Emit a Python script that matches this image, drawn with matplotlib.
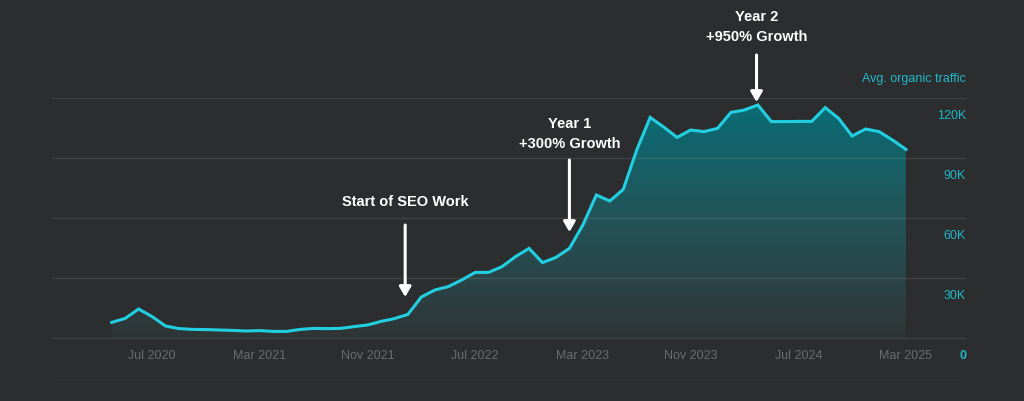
import matplotlib
matplotlib.use("Agg")
import matplotlib.pyplot as plt
import numpy as np
from matplotlib.colors import LinearSegmentedColormap
from matplotlib.patches import Polygon

# ---------------- data ----------------
start_month_label = "Apr 2020"
traffic_k = [7.8, 9.8, 14.5, 10.7, 6.0, 4.7, 4.3, 4.2, 4.0, 3.8,
             3.5, 3.7, 3.3, 3.3, 4.3, 4.8, 4.7, 4.8, 5.7, 6.5,
             8.3, 9.7, 11.8, 20.5, 24.0, 25.7, 29.0, 32.8, 32.8, 35.7,
             40.7, 44.8, 37.7, 40.3, 44.8, 56.5, 71.5, 68.5, 74.3, 94.0,
             110.3, 105.5, 100.3, 104.0, 103.2, 104.8, 112.8, 114.0, 116.5, 108.2,
             108.2, 108.3, 108.3, 115.2, 109.8, 101.0, 104.5, 103.2, 99.0, 94.3]
x_tick_idx = [3, 11, 19, 27, 35, 43, 51, 59]
x_tick_labels = ["Jul 2020", "Mar 2021", "Nov 2021", "Jul 2022",
                 "Mar 2023", "Nov 2023", "Jul 2024", "Mar 2025"]
y_ticks = [0, 30000, 60000, 90000, 120000]
y_tick_labels = ["0", "30K", "60K", "90K", "120K"]
series_label = "Avg. organic traffic"
ann_texts = ["Start of SEO Work", "Year 1\n+300% Growth", "Year 2\n+950% Growth"]
ann_x = [21.8, 34.0, 47.9]

values = np.array(traffic_k) * 1000
idx = np.arange(len(values))

BG = "#2c2d2f"
CYAN = "#22cfe0"
plt.rcParams['font.family'] = ['Liberation Sans', 'DejaVu Sans']

fig = plt.figure(figsize=(10.24, 4.01), dpi=100, facecolor=BG)
ax = fig.add_axes([52/1024, 1 - 380/401, (966-52)/1024, (380-98)/401])
ax.set_facecolor(BG)
ax.set_xlim(-4.435, 63.46)
ax.set_ylim(-21000, 120000)
ax.axis("off")

# gradient fill
cmap = LinearSegmentedColormap.from_list("g", [(0.0, "#303536"), (0.5, "#235459"), (1.0, "#086d76")])
grad = np.linspace(0, 1, 256).reshape(-1, 1)
im = ax.imshow(grad, cmap=cmap, origin="lower", aspect="auto",
               extent=[idx[0], idx[-1], 0, 120000], zorder=1)
poly_pts = np.vstack([np.column_stack([idx, values]),
                      [[idx[-1], 0], [idx[0], 0]]])
poly = Polygon(poly_pts, closed=True, transform=ax.transData, facecolor="none", edgecolor="none")
ax.add_patch(poly)
im.set_clip_path(poly)

# gridlines
for yv in y_ticks + [-21000]:
    ax.axhline(yv, color="white", alpha=0.09, lw=1.0, zorder=2)

ax.plot(idx, values, color=CYAN, lw=2.2, zorder=3, solid_joinstyle="miter")

# tick labels
for i, lab in zip(x_tick_idx, x_tick_labels):
    ax.text(i, -9000, lab, color="#6b6c6e", fontsize=9, ha="center", va="center")
for yv, lab in zip(y_ticks, y_tick_labels):
    ax.text(63.46, yv - 9000, lab, color="#1fb9c9", fontsize=9, ha="right", va="center",
            fontweight="bold" if yv == 0 else "normal")
ax.text(63.46, 129500, series_label, color="#1fb9c9", fontsize=9, ha="right",
        va="center", clip_on=False)

# annotations
text_y = [68000, 102000, 155500]
arrow_from = [56500, 89000, 141500]
arrow_to = [20500, 53000, 118000]
for t, xa, ty, a0, a1 in zip(ann_texts, ann_x, text_y, arrow_from, arrow_to):
    ax.text(xa, ty, t, color="white", fontsize=10.5, fontweight="bold", ha="center",
            va="center", linespacing=1.6, clip_on=False, zorder=5)
    ax.annotate("", xy=(xa, a1), xytext=(xa, a0), annotation_clip=False,
                arrowprops=dict(arrowstyle="-|>,head_length=0.6,head_width=0.35",
                                color="white", lw=2.2, shrinkA=0, shrinkB=0), zorder=5)

fig.savefig("out.png", dpi=100, facecolor=BG)
